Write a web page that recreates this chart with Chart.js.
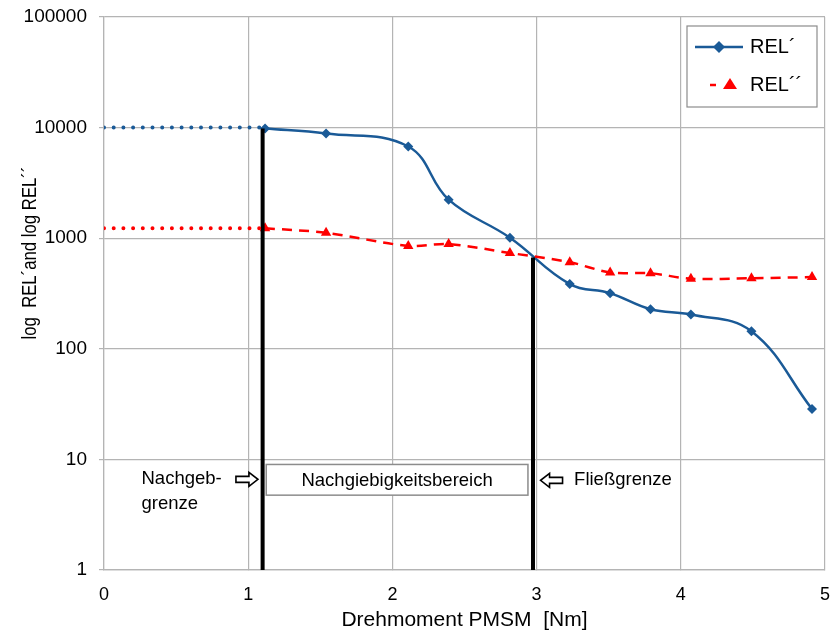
<!DOCTYPE html>
<html>
<head>
<meta charset="utf-8">
<script src="https://cdn.jsdelivr.net/npm/chart.js@4.4.1/dist/chart.umd.min.js"></script>
<style>
  html, body { margin: 0; padding: 0; background: #fff; }
  #wrap { width: 838px; height: 633px; }
</style>
</head>
<body>
<div id="wrap"><canvas id="relChart" width="838" height="633"></canvas></div>
<script>
const torque = [1.117, 1.54, 2.11, 2.39, 2.815, 3.23, 3.51, 3.79, 4.07, 4.49, 4.91];
const relA = [9800, 8850, 6750, 2230, 1010, 385, 318, 228, 204, 144, 28.5];
const relB = [1230, 1120, 850, 885, 735, 607, 490, 482, 430, 434, 445];

// gepunktete Verlängerung bis 0 Nm
const extTorque = [0, 1.08];
const extA = [10000, 10000];
const extB = [1230, 1230];

// Grenzlinien
const nachgebX = 1.1;
const nachgebTop = 9800;
const fliessX = 2.975;
const fliessTop = 670;

const xTicks = [0, 1, 2, 3, 4, 5];
const yTicks = [1, 10, 100, 1000, 10000, 100000];

const blue = '#1A5A97';
const red = '#FF0000';
const gridColor = '#B4B4B4';
const FONT = '"Liberation Sans", Arial, sans-serif';

function pts(xs, ys) {
  return xs.map((x, i) => ({ x: x, y: ys[i] }));
}

// Pfeil (hohl) zeichnen
function hollowArrow(c, x, y, dir) {
  c.save();
  c.translate(x, y);
  c.scale(dir, 1);
  c.beginPath();
  c.moveTo(0, -3);
  c.lineTo(13, -3);
  c.lineTo(13, -7);
  c.lineTo(22, 0);
  c.lineTo(13, 7);
  c.lineTo(13, 3);
  c.lineTo(0, 3);
  c.closePath();
  c.fillStyle = '#fff';
  c.fill();
  c.lineWidth = 1.6;
  c.strokeStyle = '#000';
  c.stroke();
  c.restore();
}

const annotations = {
  id: 'annotations',
  afterDatasetsDraw(chart) {
    const c = chart.ctx;
    const xs = chart.scales.x;
    const ys = chart.scales.y;
    c.save();
    c.font = '18.5px ' + FONT;
    c.fillStyle = '#000';
    c.textBaseline = 'middle';

    // Bereichs-Box
    const bx1 = xs.getPixelForValue(1.125);
    const bx2 = xs.getPixelForValue(2.94);
    const by1 = ys.getPixelForValue(9.0);
    const by2 = ys.getPixelForValue(4.75);
    c.fillStyle = '#fff';
    c.fillRect(bx1, by1, bx2 - bx1, by2 - by1);
    c.strokeStyle = '#8C8C8C';
    c.lineWidth = 1.5;
    c.strokeRect(bx1, by1, bx2 - bx1, by2 - by1);
    c.fillStyle = '#000';
    c.textAlign = 'center';
    c.fillText('Nachgiebigkeitsbereich', (bx1 + bx2) / 2, (by1 + by2) / 2 + 1);

    const ay = ys.getPixelForValue(6.6);
    c.textAlign = 'left';
    c.fillText('Nachgeb-', xs.getPixelForValue(0.26), ay);
    c.fillText('grenze', xs.getPixelForValue(0.26), ay + 25);
    c.fillText('Fließgrenze', xs.getPixelForValue(3.26), ay + 1);

    hollowArrow(c, xs.getPixelForValue(0.915), ay, 1);
    hollowArrow(c, xs.getPixelForValue(3.18), ay + 1, -1);

    // Legende
    const lx = 687, ly = 26, lw = 130, lh = 81;
    c.fillStyle = '#fff';
    c.fillRect(lx, ly, lw, lh);
    c.strokeStyle = '#8C8C8C';
    c.lineWidth = 1.2;
    c.strokeRect(lx, ly, lw, lh);

    c.strokeStyle = blue;
    c.lineWidth = 2.5;
    c.beginPath();
    c.moveTo(lx + 8, ly + 21);
    c.lineTo(lx + 56, ly + 21);
    c.stroke();
    c.fillStyle = blue;
    c.beginPath();
    c.moveTo(lx + 32, ly + 15);
    c.lineTo(lx + 38, ly + 21);
    c.lineTo(lx + 32, ly + 27);
    c.lineTo(lx + 26, ly + 21);
    c.closePath();
    c.fill();

    c.strokeStyle = red;
    c.beginPath();
    c.moveTo(lx + 23, ly + 59);
    c.lineTo(lx + 29, ly + 59);
    c.stroke();
    c.fillStyle = red;
    c.beginPath();
    c.moveTo(lx + 43, ly + 52);
    c.lineTo(lx + 50, ly + 63);
    c.lineTo(lx + 36, ly + 63);
    c.closePath();
    c.fill();

    c.fillStyle = '#000';
    c.font = '20px ' + FONT;
    c.textAlign = 'left';
    c.fillText('REL´', lx + 63, ly + 21);
    c.fillText('REL´´', lx + 63, ly + 59);

    // y-Achsentitel (etwas nach oben versetzt wie im Original)
    const yTitle = 'log  REL´and log REL´´';
    c.font = '20px ' + FONT;
    const tw = c.measureText(yTitle).width;
    c.translate(30, 253);
    c.rotate(-Math.PI / 2);
    c.scale(173 / tw, 1);
    c.textAlign = 'center';
    c.fillText(yTitle, 0, 0);
    c.restore();
  }
};

const ctx = document.getElementById('relChart').getContext('2d');
const relChart = new Chart(ctx, {
  type: 'line',
  data: {
    datasets: [
      {
        label: 'REL´ ext',
        data: pts(extTorque, extA),
        borderColor: blue,
        borderWidth: 4,
        borderDash: [0, 9.7],
        borderCapStyle: 'round',
        pointRadius: 0,
        tension: 0,
      },
      {
        label: 'REL´´ ext',
        data: pts(extTorque, extB),
        borderColor: red,
        borderWidth: 4,
        borderDash: [0, 9.7],
        borderCapStyle: 'round',
        pointRadius: 0,
        tension: 0,
      },
      {
        label: 'Nachgebgrenze',
        data: [{ x: nachgebX, y: 1 }, { x: nachgebX, y: nachgebTop }],
        borderColor: '#000',
        borderWidth: 4,
        pointRadius: 0,
      },
      {
        label: 'Fließgrenze',
        data: [{ x: fliessX, y: 1 }, { x: fliessX, y: fliessTop }],
        borderColor: '#000',
        borderWidth: 4,
        pointRadius: 0,
      },
      {
        label: 'REL´´',
        data: pts(torque, relB),
        borderColor: red,
        backgroundColor: red,
        borderWidth: 2.5,
        borderDash: [10, 7],
        pointStyle: 'triangle',
        pointRadius: 6,
        pointBorderWidth: 0,
        tension: 0.3,
      },
      {
        label: 'REL´',
        data: pts(torque, relA),
        borderColor: blue,
        backgroundColor: blue,
        borderWidth: 2.5,
        pointStyle: 'rectRot',
        pointRadius: 5,
        pointBorderWidth: 0,
        tension: 0.4,
      },
    ],
  },
  options: {
    responsive: false,
    animation: false,
    layout: { padding: { left: 10, right: 13, top: 17, bottom: 0 } },
    plugins: {
      legend: { display: false },
      tooltip: { enabled: false },
    },
    scales: {
      x: {
        type: 'linear',
        min: 0,
        max: 5,
        afterBuildTicks: (scale) => { scale.ticks = xTicks.map(v => ({ value: v })); },
        afterFit: (scale) => {
          scale.height = 63;
          scale.paddingLeft = 0;
          scale.paddingRight = 0;
        },
        grid: { color: gridColor, lineWidth: 1.2, tickLength: 0 },
        border: { color: gridColor, width: 1.2 },
        ticks: { color: '#000', font: { family: FONT, size: 18 }, padding: 14 },
        title: {
          display: true,
          text: 'Drehmoment PMSM  [Nm]',
          color: '#000',
          font: { family: FONT, size: 21 },
          padding: { top: 0, bottom: 0 },
        },
      },
      y: {
        type: 'logarithmic',
        min: 1,
        max: 100000,
        afterBuildTicks: (scale) => { scale.ticks = yTicks.map(v => ({ value: v })); },
        afterFit: (scale) => {
          scale.width = 94;
          scale.paddingTop = 0;
          scale.paddingBottom = 0;
        },
        grid: { color: gridColor, lineWidth: 1.2, tickLength: 5 },
        border: { color: gridColor, width: 1.2 },
        ticks: {
          color: '#000',
          font: { family: FONT, size: 19 },
          padding: 12,
          callback: (value) => String(value),
        },
        title: { display: false },
      },
    },
  },
  plugins: [annotations],
});
</script>
</body>
</html>
